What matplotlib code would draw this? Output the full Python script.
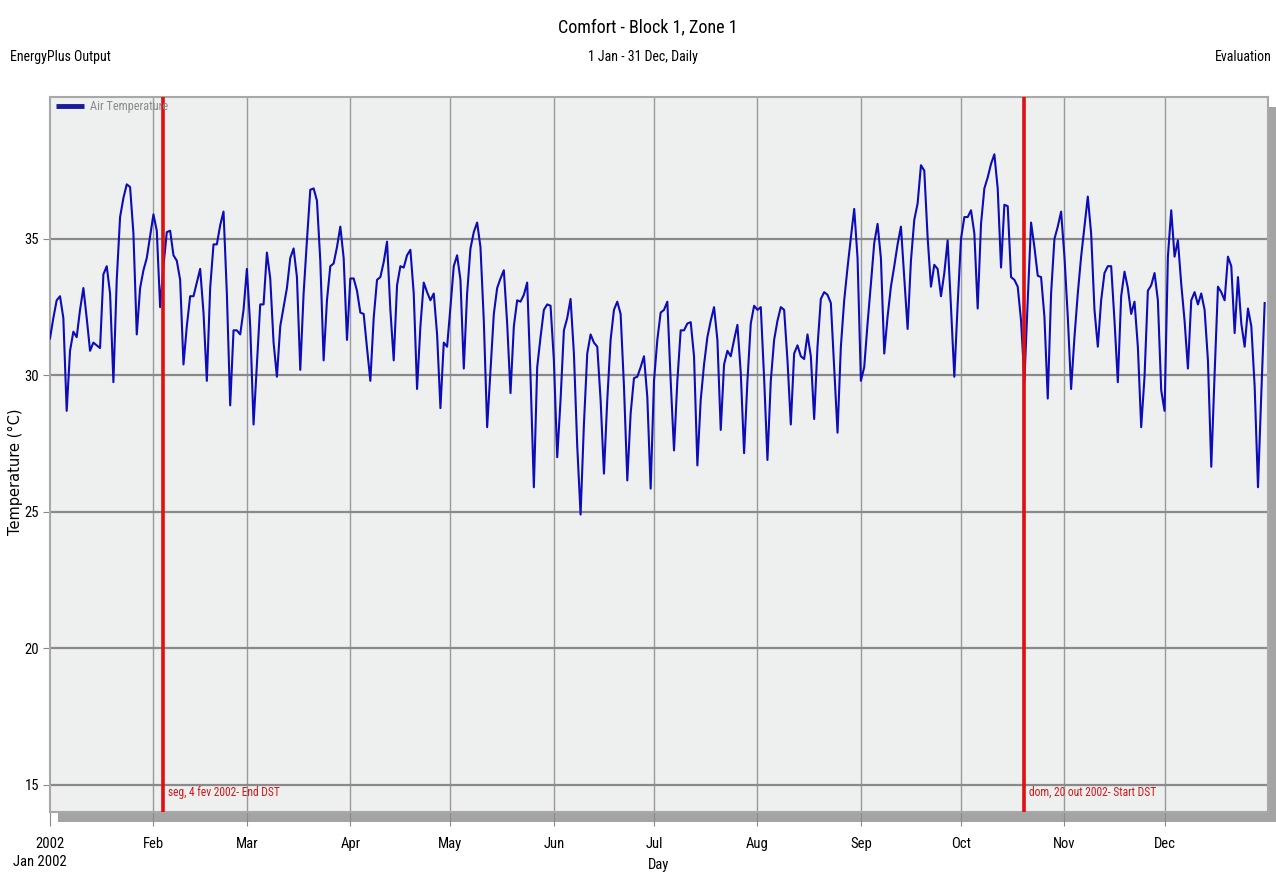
import datetime as dt
import numpy as np
import pandas as pd
import matplotlib
matplotlib.use('Agg')
import matplotlib.pyplot as plt
import matplotlib.dates as mdates
from matplotlib import font_manager
from matplotlib.patches import Rectangle

# daily zone air temperature (°C), one list per month
jan = [31.35, 32.1, 32.75, 32.9, 32.1, 28.7, 30.9, 31.6, 31.4, 32.4, 33.2, 32.1, 30.9, 31.2, 31.1, 31.0,
       33.7, 34.0, 33.0, 29.75, 33.5, 35.8, 36.5, 37.0, 36.9, 35.2, 31.5, 33.2, 33.85, 34.3, 35.1]
feb = [35.9, 35.3, 32.5, 34.0, 35.25, 35.3, 34.4, 34.2, 33.5, 30.4, 31.8, 32.9, 32.9, 33.4, 33.9, 32.3,
       29.8, 33.2, 34.8, 34.8, 35.5, 36.0, 33.0, 28.9, 31.65, 31.65, 31.5, 32.4]
mar = [33.9, 31.8, 28.2, 30.4, 32.6, 32.6, 34.5, 33.55, 31.2, 29.95, 31.8, 32.5, 33.2, 34.3, 34.65, 33.6,
       30.2, 33.0, 34.95, 36.8, 36.85, 36.4, 34.2, 30.55, 32.75, 34.0, 34.1, 34.7, 35.45, 34.3, 31.3]
apr = [33.55, 33.55, 33.1, 32.3, 32.25, 31.0, 29.8, 32.1, 33.5, 33.6, 34.15, 34.9, 32.4, 30.55, 33.3,
       34.0, 33.95, 34.4, 34.6, 33.0, 29.5, 31.8, 33.4, 33.05, 32.75, 33.0, 31.5, 28.8, 31.2, 31.05]
may = [32.5, 34.0, 34.4, 33.5, 30.25, 33.0, 34.65, 35.25, 35.6, 34.7, 32.0, 28.1, 30.2, 32.25, 33.2, 33.55,
       33.85, 31.9, 29.35, 31.8, 32.75, 32.7, 32.95, 33.4, 29.95, 25.9, 30.3, 31.4, 32.4, 32.6, 32.55]
jun = [30.55, 27.0, 29.1, 31.65, 32.1, 32.8, 30.8, 27.4, 24.9, 28.2, 30.8, 31.5, 31.2, 31.05, 29.1, 26.4,
       29.1, 31.3, 32.4, 32.7, 32.25, 29.6, 26.15, 28.6, 29.9, 29.95, 30.3, 30.7, 29.2, 25.85]
jul = [29.8, 31.3, 32.3, 32.4, 32.7, 29.8, 27.25, 29.8, 31.65, 31.65, 31.9, 31.95, 30.7, 26.7, 29.1, 30.4,
       31.4, 32.0, 32.5, 31.3, 28.0, 30.4, 30.9, 30.7, 31.3, 31.85, 30.1, 27.15, 29.8, 31.9, 32.55]
aug = [32.4, 32.5, 29.9, 26.9, 29.8, 31.3, 32.0, 32.5, 32.4, 30.55, 28.2, 30.8, 31.1, 30.7, 30.6, 31.5,
       30.7, 28.4, 31.05, 32.8, 33.05, 32.95, 32.65, 30.3, 27.9, 31.05, 32.75, 33.95, 35.05, 36.1, 34.3]
sep = [29.8, 30.3, 31.9, 33.35, 34.85, 35.55, 34.3, 30.8, 32.15, 33.25, 34.0, 34.8, 35.45, 33.6, 31.7,
       34.2, 35.7, 36.3, 37.7, 37.5, 35.05, 33.25, 34.05, 33.9, 32.9, 33.75, 34.95, 32.5, 29.95, 32.6]
oct_ = [35.0, 35.8, 35.8, 36.05, 35.2, 32.45, 35.55, 36.85, 37.25, 37.75, 38.1, 36.85, 33.95, 36.25, 36.2,
        33.6, 33.5, 33.25, 32.0, 29.8, 32.75, 35.6, 34.7, 33.65, 33.6, 32.15, 29.15, 33.0, 35.0, 35.45, 36.0]
nov = [34.35, 32.15, 29.5, 31.4, 33.0, 34.35, 35.45, 36.55, 35.2, 32.4, 31.05, 32.75, 33.75, 34.0, 34.0,
       32.0, 29.75, 32.9, 33.8, 33.2, 32.25, 32.7, 31.05, 28.1, 29.95, 33.1, 33.3, 33.75, 32.75, 29.45]
dec = [28.7, 34.35, 36.05, 34.35, 34.95, 33.35, 32.0, 30.25, 32.75, 33.05, 32.6, 33.0, 32.4, 30.55, 26.65,
       30.05, 33.25, 33.05, 32.75, 34.35, 34.0, 31.55, 33.6, 31.9, 31.05, 32.45, 31.8, 29.6, 25.9, 29.35, 32.65]

temps = jan + feb + mar + apr + may + jun + jul + aug + sep + oct_ + nov + dec
days = pd.date_range('2002-01-01', periods=len(temps), freq='D')
month_labels = ['2002', 'Feb', 'Mar', 'Apr', 'May', 'Jun', 'Jul', 'Aug', 'Sep', 'Oct', 'Nov', 'Dec']

dst_dates = [dt.datetime(2002, 2, 4), dt.datetime(2002, 10, 20)]
dst_labels = ['seg, 4 fev 2002- End DST', 'dom, 20 out 2002- Start DST']

# prefer a narrow sans if one is around
names = {f.name for f in font_manager.fontManager.ttflist}
cands = ['Liberation Sans Narrow', 'Roboto Condensed', 'Open Sans Condensed', 'Liberation Sans']
family = next((c for c in cands if c in names), 'DejaVu Sans')
plt.rcParams['font.family'] = family
plt.rcParams['font.stretch'] = 'condensed'

W, H = 1276, 874
fig = plt.figure(figsize=(W / 100, H / 100), dpi=100)
fig.patch.set_facecolor('white')

# plot frame in pixels
x0, x1, ytop, ybot = 50, 1268, 97, 812
ax = fig.add_axes([x0 / W, 1 - ybot / H, (x1 - x0) / W, (ybot - ytop) / H])

# drop shadow behind the frame
fig.patches.append(Rectangle(((x0 + 8) / W, 1 - (ybot + 10) / H), (x1 - x0) / W, (ybot - ytop) / H,
                             transform=fig.transFigure, facecolor='#a4a4a4', edgecolor='none', zorder=0))

ax.set_facecolor('#eeefef')
ax.set_zorder(1)

month_starts = pd.date_range('2002-01-01', periods=12, freq='MS')
for d in month_starts[1:]:
    ax.axvline(d, color='#9a9a9a', lw=1.0, zorder=1)
for t in [15, 20, 25, 30, 35]:
    ax.axhline(t, color='#8a8a8a', lw=1.6, zorder=1)

ax.plot(days, temps, color='#0c0cb8', lw=1.5, zorder=3)

for d, lab in zip(dst_dates, dst_labels):
    ax.axvline(d, color='#e01010', lw=2.6, zorder=4)
    ax.text(d + dt.timedelta(days=1.5), 14.73, lab, color='#d01818', fontsize=8.3,
            va='center', ha='left', zorder=5)

ax.set_xlim(dt.datetime(2002, 1, 1), dt.datetime(2003, 1, 1))
ax.set_ylim(14.0, 40.2)

ax.set_xticks(mdates.date2num(month_starts))
ax.set_xticklabels(month_labels)
ax.set_yticks([15, 20, 25, 30, 35])
ax.tick_params(axis='x', length=10, color='#8a8a8a', labelsize=10.5, pad=8)
ax.tick_params(axis='y', length=5, color='#8a8a8a', labelsize=10.5, pad=3)

for s in ax.spines.values():
    s.set_color('#a8a8a8')
    s.set_linewidth(1.5)

ax.set_xlabel('Day', fontsize=10.5, labelpad=5)
fig.text(15 / W, 1 - 472 / H, 'Temperature (°C)', fontsize=10.5, rotation=90,
         ha='center', va='center', family='DejaVu Sans', stretch='normal')
fig.text(40 / W, 1 - 862 / H, 'Jan 2002', fontsize=10.5, ha='center', va='center')

# legend entry drawn in axes fraction
ax.plot([0.005, 0.028], [0.987, 0.987], transform=ax.transAxes, color='#1a1a9c', lw=3.5, zorder=5,
        solid_capstyle='butt')
ax.text(0.033, 0.987, 'Air Temperature', transform=ax.transAxes, color='#8a8a8a', fontsize=8.8,
        va='center', ha='left', zorder=5)

fig.text(648 / W, 1 - 27 / H, 'Comfort - Block 1, Zone 1', fontsize=13, ha='center', va='center')
fig.text(643 / W, 1 - 57 / H, '1 Jan - 31 Dec, Daily', fontsize=10, ha='center', va='center')
fig.text(10 / W, 1 - 57 / H, 'EnergyPlus Output', fontsize=10, ha='left', va='center')
fig.text(1272 / W, 1 - 57 / H, 'Evaluation', fontsize=10, ha='right', va='center')

plt.savefig('out.png', dpi=100)
